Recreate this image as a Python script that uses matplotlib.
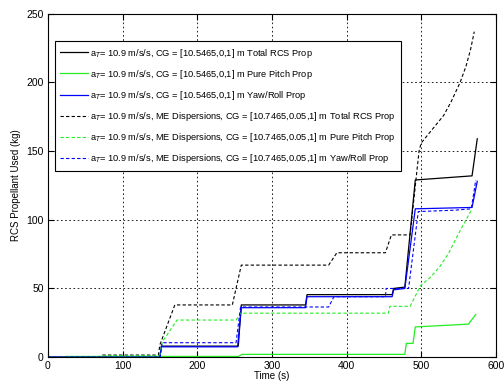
import numpy as np
import matplotlib
matplotlib.use('Agg')
import matplotlib.pyplot as plt

plt.rcParams['font.family'] = ['Liberation Sans', 'DejaVu Sans']

# nominal case, CG = [10.5465,0,1]
t_tot = [0, 150, 152, 255, 259, 345, 347, 461, 463, 478, 492, 568, 575]
v_tot = [0, 0, 8, 8, 38, 38, 45.5, 45.5, 50, 51, 129, 132, 159]

t_pitch = [25, 255, 260, 478, 480, 489, 492, 563, 573]
v_pitch = [0.5, 0.5, 2, 2, 10, 10, 22, 24, 31]

t_yaw = [0, 150, 152, 254, 259, 345, 347, 461, 463, 478, 492, 568, 575]
v_yaw = [0, 0, 7.5, 7.5, 36, 36, 44, 44, 49, 50, 108, 109, 128]

# ME dispersions, CG = [10.7465,0.05,1]
t_tot_d = [0, 70, 72, 148, 150, 170, 247, 259, 376, 387, 452, 460, 485, 497,
           500, 515, 530, 540, 552, 560, 566, 571]
v_tot_d = [0, 0, 1.5, 1.5, 9, 38, 38, 67, 67, 76, 76, 89, 89, 150,
           156, 166, 176, 186, 200, 212, 224, 237]

t_pitch_d = [0, 70, 72, 148, 150, 153, 173, 252, 258, 456, 458, 485, 499,
             512, 525, 537, 549, 558, 567]
v_pitch_d = [0, 0, 1, 1, 2, 11, 27, 27, 32, 32, 37, 37, 52,
             58, 66, 76, 89, 98, 107]

t_yaw_d = [0, 150, 153, 252, 258, 376, 383, 452, 453, 483, 496, 545, 567, 573]
v_yaw_d = [0, 0, 10.5, 10.5, 36.5, 36.5, 44, 44, 50, 50, 106, 107, 108, 129]

lab_nom = r'a$_T$= 10.9 m/s/s, CG = [10.5465,0,1] m '
lab_disp = r'a$_T$= 10.9 m/s/s, ME Dispersions, CG = [10.7465,0.05,1] m '

fig = plt.figure(figsize=(5.04, 3.84), dpi=100)
ax = fig.add_axes([0.095, 0.070, 0.889, 0.894])

dash = (0, (3, 2))
ax.plot(t_tot, v_tot, color='k', lw=0.9, label=lab_nom + 'Total RCS Prop')
ax.plot(t_pitch, v_pitch, color='#22ee22', lw=0.9, label=lab_nom + 'Pure Pitch Prop')
ax.plot(t_yaw, v_yaw, color='#0000ff', lw=0.9, label=lab_nom + 'Yaw/Roll Prop')
ax.plot(t_tot_d, v_tot_d, color='k', lw=0.8, ls=dash, label=lab_disp + 'Total RCS Prop')
ax.plot(t_pitch_d, v_pitch_d, color='#22ee22', lw=0.8, ls=dash, label=lab_disp + 'Pure Pitch Prop')
ax.plot(t_yaw_d, v_yaw_d, color='#0000ff', lw=0.8, ls=dash, label=lab_disp + 'Yaw/Roll Prop')

ax.set_xlim(0, 600)
ax.set_ylim(0, 250)
ax.set_xticks(np.arange(0, 601, 100))
ax.set_yticks(np.arange(0, 251, 50))
ax.grid(True, color='k', ls=(0, (2, 3)), lw=0.6)
ax.tick_params(direction='in', top=True, right=True, labelsize=7.5, length=4, pad=3)
for s in ax.spines.values():
    s.set_linewidth(0.8)

ax.set_xlabel('Time (s)', fontsize=7, labelpad=0)
ax.set_ylabel('RCS Propellant Used (kg)', fontsize=7, labelpad=4)

leg = ax.legend(loc='upper left', bbox_to_anchor=(0.0156, 0.921), fontsize=6.7,
                frameon=True, fancybox=False, edgecolor='k', framealpha=1,
                handlelength=3.0, labelspacing=0.88, borderaxespad=0,
                handletextpad=0.2, borderpad=0.6)
leg.get_frame().set_linewidth(0.8)

fig.savefig('out.png', dpi=100)
